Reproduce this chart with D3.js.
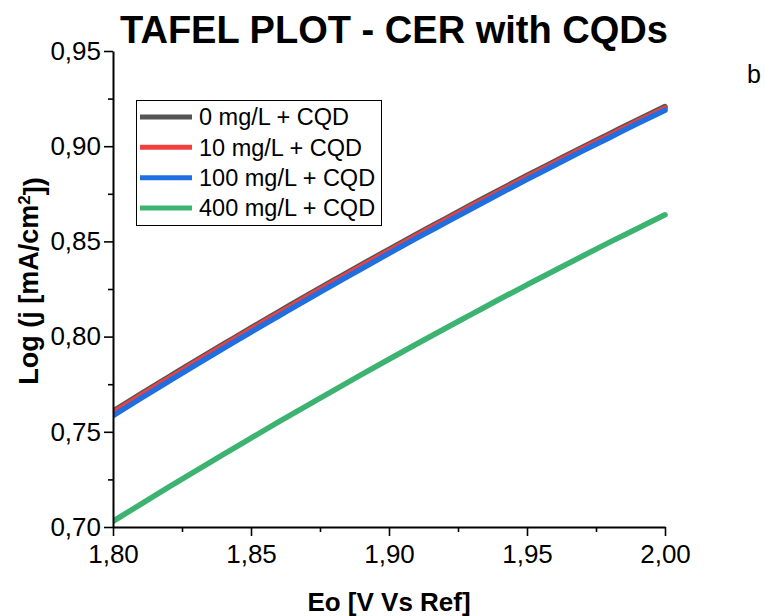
<!DOCTYPE html>
<html>
<head>
<meta charset="utf-8">
<script src="https://cdn.jsdelivr.net/npm/d3@7"></script>
<style>
  body { margin: 0; background: #fff; }
  svg { font-family: "Liberation Sans", Arial, sans-serif; }
</style>
</head>
<body>
<div id="chart"></div>
<script>
// potential values (V vs Ref)
const potential = [1.80, 1.81, 1.82, 1.83, 1.84, 1.85, 1.86, 1.87, 1.88, 1.89, 1.90,
  1.91, 1.92, 1.93, 1.94, 1.95, 1.96, 1.97, 1.98, 1.99, 2.00];

// log current density for each concentration
const cqd0 = [0.7608, 0.7698, 0.7786, 0.7874, 0.7960, 0.8046, 0.8130, 0.8214, 0.8296, 0.8378, 0.8458,
  0.8538, 0.8616, 0.8694, 0.8770, 0.8846, 0.8920, 0.8994, 0.9066, 0.9138, 0.9208];
const cqd10 = [0.7600, 0.7690, 0.7778, 0.7866, 0.7952, 0.8038, 0.8122, 0.8206, 0.8288, 0.8370, 0.8450,
  0.8530, 0.8608, 0.8686, 0.8762, 0.8838, 0.8912, 0.8986, 0.9058, 0.9130, 0.9200];
const cqd100 = [0.7585, 0.7675, 0.7764, 0.7852, 0.7938, 0.8024, 0.8108, 0.8192, 0.8274, 0.8356, 0.8437,
  0.8517, 0.8595, 0.8673, 0.8750, 0.8826, 0.8900, 0.8974, 0.9046, 0.9119, 0.9189];
const cqd400 = [0.7030, 0.7119, 0.7208, 0.7295, 0.7381, 0.7467, 0.7552, 0.7635, 0.7718, 0.7800, 0.7881,
  0.7961, 0.8040, 0.8118, 0.8196, 0.8272, 0.8347, 0.8422, 0.8496, 0.8568, 0.8640];

const seriesNames = ["0 mg/L + CQD", "10 mg/L + CQD", "100 mg/L + CQD", "400 mg/L + CQD"];
const seriesColors = ["#555555", "#ef4040", "#1f6fe0", "#3cb371"];
const seriesValues = [cqd0, cqd10, cqd100, cqd400];

const xMajor = [1.80, 1.85, 1.90, 1.95, 2.00];
const xMinor = [1.825, 1.875, 1.925, 1.975];
const yMajor = [0.70, 0.75, 0.80, 0.85, 0.90, 0.95];
const yMinor = [0.725, 0.775, 0.825, 0.875, 0.925];

const W = 765, H = 616;
const plotL = 113, plotR = 665, plotT = 51, plotB = 527;

const svg = d3.select("#chart").append("svg")
  .attr("width", W)
  .attr("height", H);

const x = d3.scaleLinear().domain([1.80, 2.00]).range([plotL, plotR]);
const y = d3.scaleLinear().domain([0.70, 0.95]).range([plotB, plotT]);

const commaFmt = d => d3.format(".2f")(d).replace(".", ",");

svg.append("defs").append("clipPath").attr("id", "plotclip")
  .append("rect")
  .attr("x", plotL).attr("y", plotT - 5)
  .attr("width", plotR - plotL + 10).attr("height", plotB - plotT + 5);

// lines
const line = d3.line()
  .x((d, i) => x(potential[i]))
  .y(d => y(d))
  .curve(d3.curveMonotoneX);

svg.append("g").attr("clip-path", "url(#plotclip)")
  .selectAll("path")
  .data(seriesValues)
  .join("path")
  .attr("d", line)
  .attr("fill", "none")
  .attr("stroke", (d, i) => seriesColors[i])
  .attr("stroke-width", 5.5)
  .attr("stroke-linecap", "round")
  .attr("stroke-linejoin", "round");

// axes
function styleAxis(g) {
  g.select(".domain").attr("stroke", "#000").attr("stroke-width", 2);
  g.selectAll(".tick line").attr("stroke", "#000").attr("stroke-width", 1.6);
  g.selectAll(".tick text").attr("fill", "#000").style("font-size", "26px");
}

const xAxis = svg.append("g")
  .attr("transform", `translate(0,${plotB})`)
  .call(d3.axisBottom(x).tickValues(xMajor).tickFormat(commaFmt).tickSize(9).tickSizeOuter(0).tickPadding(5))
  .call(styleAxis);
xAxis.selectAll(".tick text").attr("dy", "0.85em");

svg.append("g")
  .attr("transform", `translate(0,${plotB})`)
  .call(d3.axisBottom(x).tickValues(xMinor).tickFormat("").tickSize(5).tickSizeOuter(0))
  .call(styleAxis)
  .select(".domain").remove();

svg.append("g")
  .attr("transform", `translate(${plotL},0)`)
  .call(d3.axisLeft(y).tickValues(yMajor).tickFormat(commaFmt).tickSize(9).tickSizeOuter(0).tickPadding(3))
  .call(styleAxis);

svg.append("g")
  .attr("transform", `translate(${plotL},0)`)
  .call(d3.axisLeft(y).tickValues(yMinor).tickFormat("").tickSize(5).tickSizeOuter(0))
  .call(styleAxis)
  .select(".domain").remove();

// title
svg.append("text")
  .attr("x", 394)
  .attr("y", 43)
  .attr("text-anchor", "middle")
  .attr("font-weight", "bold")
  .attr("textLength", 548)
  .attr("lengthAdjust", "spacingAndGlyphs")
  .style("font-size", "38px")
  .text("TAFEL PLOT - CER with CQDs");

// axis titles
svg.append("text")
  .attr("x", 389)
  .attr("y", 611)
  .attr("text-anchor", "middle")
  .attr("font-weight", "bold")
  .style("font-size", "26px")
  .text("Eo [V Vs Ref]");

const yTitle = svg.append("text")
  .attr("transform", "translate(38,281) rotate(-90)")
  .attr("text-anchor", "middle")
  .attr("font-weight", "bold")
  .style("font-size", "27px");
yTitle.append("tspan").text("Log (j [mA/cm");
yTitle.append("tspan").attr("dy", "-0.45em").style("font-size", "17px").text("2");
yTitle.append("tspan").attr("dy", "0.45em").text("])");

// panel letter
svg.append("text")
  .attr("x", 747)
  .attr("y", 83)
  .style("font-size", "25px")
  .text("b");

// legend
const legend = svg.append("g");
legend.append("rect")
  .attr("x", 136.5).attr("y", 100.5)
  .attr("width", 245).attr("height", 125)
  .attr("fill", "#fff")
  .attr("stroke", "#000")
  .attr("stroke-width", 1);

const rowY = d3.scaleLinear().domain([0, 3]).range([117, 208]);
const items = legend.selectAll("g.item")
  .data(seriesNames)
  .join("g")
  .attr("class", "item")
  .attr("transform", (d, i) => `translate(0,${rowY(i)})`);

items.append("line")
  .attr("x1", 140).attr("x2", 192)
  .attr("stroke", (d, i) => seriesColors[i])
  .attr("stroke-width", 5);

items.append("text")
  .attr("x", 199)
  .attr("dy", "0.36em")
  .style("font-size", "23.5px")
  .text(d => d);
</script>
</body>
</html>
